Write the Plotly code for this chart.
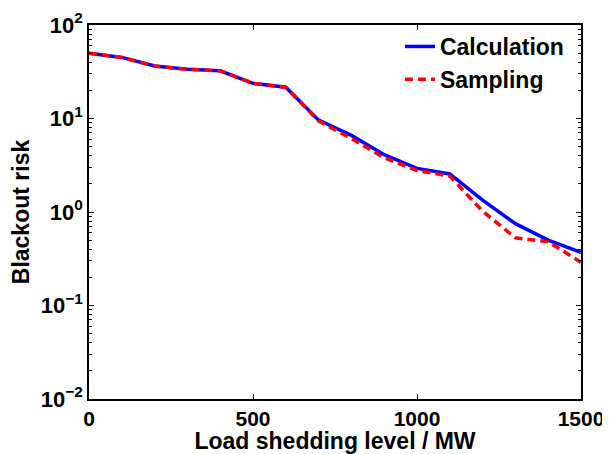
import plotly.graph_objects as go

load_mw = [0, 100, 200, 300, 400, 500, 600, 700, 800, 900, 1000, 1100, 1200, 1300, 1400, 1500]
risk_calculation = [50, 45, 36.4, 33.6, 32.4, 23.8, 21.6, 9.6, 6.6, 4.1, 2.93, 2.55, 1.34, 0.75, 0.50, 0.37]
risk_sampling = [50, 45, 36.4, 33.6, 32.4, 23.8, 21.6, 9.4, 6.1, 3.8, 2.78, 2.42, 1.02, 0.53, 0.48, 0.29]

x_ticks = [0, 500, 1000, 1500]
y_ticks = [0.01, 0.1, 1, 10, 100]
y_ticktext = ["10<sup>\u22122</sup>", "10<sup>\u22121</sup>", "10<sup>0</sup>", "10<sup>1</sup>", "10<sup>2</sup>"]
y_minor = [m * d for d in [0.01, 0.1, 1, 10] for m in range(2, 10)]

font_family = "Liberation Sans, Arial, sans-serif"

fig = go.Figure()
fig.add_trace(go.Scatter(x=load_mw, y=risk_calculation, mode="lines", name="<b>Calculation</b>",
                         line=dict(color="#0000ff", width=3.5)))
fig.add_trace(go.Scatter(x=load_mw, y=risk_sampling, mode="lines", name="<b>Sampling</b>",
                         line=dict(color="#ff0000", width=3.5, dash="8px,5px")))

fig.update_layout(
    width=602, height=446,
    margin=dict(l=81, r=29, t=17, b=55),
    paper_bgcolor="white", plot_bgcolor="white",
    font=dict(family=font_family, color="black", size=22),
    showlegend=True,
    legend=dict(x=0.632, y=1.0, xanchor="left", yanchor="top", bgcolor="rgba(0,0,0,0)",
                borderwidth=0, font=dict(size=23, family=font_family), tracegroupgap=0,
                itemwidth=30),
    xaxis=dict(range=[0, 1500], tickvals=x_ticks, ticktext=[f"<b>{v}</b>" for v in x_ticks],
               ticks="inside", ticklen=5, tickwidth=1, tickcolor="black",
               showline=True, linecolor="black", linewidth=1.5, mirror="ticks",
               showgrid=False, zeroline=False, automargin=False,
               title=dict(text="<b>Load shedding level / MW</b>", font=dict(size=23), standoff=0),
               tickfont=dict(size=21)),
    yaxis=dict(type="log", range=[-2, 2], tickvals=y_ticks,
               ticktext=["<b>" + t + "</b>" for t in y_ticktext],
               ticks="inside", ticklen=5, tickwidth=1, tickcolor="black",
               minor=dict(tickmode="array", tickvals=y_minor, ticks="inside", ticklen=3,
                          tickcolor="black", tickwidth=1, showgrid=False),
               showline=True, linecolor="black", linewidth=1.5, mirror="ticks",
               showgrid=False, zeroline=False, automargin=False,
               title=dict(text="<b>Blackout risk</b>", font=dict(size=23), standoff=6),
               tickfont=dict(size=22)),
)

fig.write_html("out.html")
